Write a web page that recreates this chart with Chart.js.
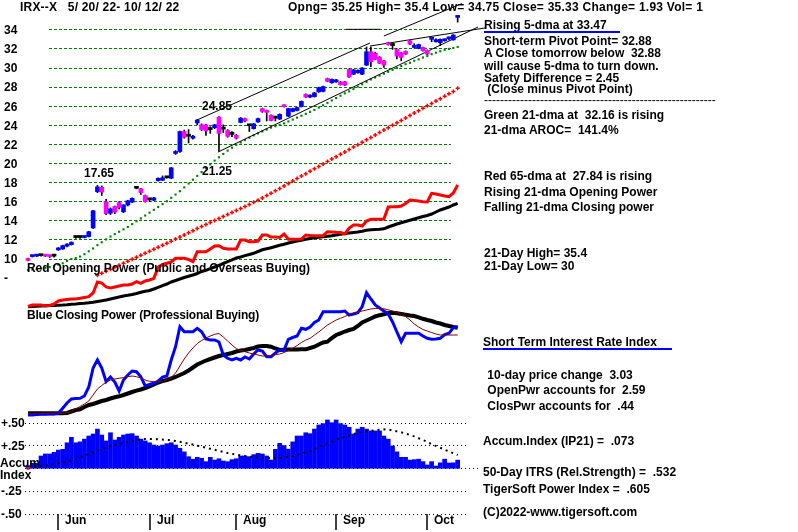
<!DOCTYPE html>
<html>
<head>
<meta charset="utf-8">
<script src="https://cdn.jsdelivr.net/npm/chart.js@4.4.0/dist/chart.umd.min.js"></script>
<style>
  html, body { margin: 0; padding: 0; background: #fff; }
  #wrap { position: relative; width: 798px; height: 532px; overflow: hidden;
          font: bold 12px "Liberation Sans", Arial, sans-serif; color: #000; }
  #wrap canvas { position: absolute; left: 0; top: 0; }
  .t { position: absolute; white-space: pre; line-height: 14px; }
  .ul { position: absolute; height: 2px; background: #0000ff; }
</style>
</head>
<body>
<div id="wrap">
  <canvas id="chart" width="798" height="532"></canvas>

  <div class="t" style="left:20px;top:0px;letter-spacing:0.2px">IRX--X   5/ 20/ 22- 10/ 12/ 22</div>
  <div class="t" style="left:288px;top:0px;letter-spacing:0.25px">Opng= 35.25 High= 35.4 Low= 34.75 Close= 35.33 Change= 1.93 Vol= 1</div>

  <div class="t" style="left:202px;top:99px">24.85</div>
  <div class="t" style="left:84px;top:166px">17.65</div>
  <div class="t" style="left:202px;top:164px">21.25</div>
  <div class="t" style="left:27px;top:261px;letter-spacing:-0.1px">Red Opening Power (Public and Overseas Buying)</div>
  <div class="t" style="left:27px;top:308px;letter-spacing:-0.2px">Blue Closing Power (Professional Buying)</div>

  <div class="t" style="left:484px;top:18px">Rising 5-dma at 33.47</div>
  <div class="ul" style="left:484px;top:31px;width:136px"></div>
  <div class="t" style="left:484px;top:34px">Short-term Pivot Point= 32.88</div>
  <div class="t" style="left:484px;top:46px">A Close tomorrow below  32.88</div>
  <div class="t" style="left:484px;top:59px">will cause 5-dma to turn down.</div>
  <div class="t" style="left:484px;top:71px">Safety Difference = 2.45</div>
  <div class="t" style="left:484px;top:82px"> (Close minus Pivot Point)</div>
  <div class="t" style="left:484px;top:93px;font-weight:normal">----------------------------------------------------------</div>
  <div class="t" style="left:484px;top:108px">Green 21-dma at  32.16 is rising</div>
  <div class="t" style="left:484px;top:123px">21-dma AROC=  141.4%</div>
  <div class="t" style="left:484px;top:169px">Red 65-dma at  27.84 is rising</div>
  <div class="t" style="left:484px;top:185px">Rising 21-dma Opening Power</div>
  <div class="t" style="left:484px;top:200px">Falling 21-dma Closing power</div>
  <div class="t" style="left:484px;top:246px">21-Day High= 35.4</div>
  <div class="t" style="left:484px;top:259px">21-Day Low= 30</div>
  <div class="t" style="left:483px;top:335px">Short Term Interest Rate Index</div>
  <div class="ul" style="left:483px;top:348px;width:189px"></div>
  <div class="t" style="left:484px;top:368px"> 10-day price change  3.03</div>
  <div class="t" style="left:484px;top:383px"> OpenPwr accounts for  2.59</div>
  <div class="t" style="left:484px;top:399px"> ClosPwr accounts for  .44</div>
  <div class="t" style="left:483px;top:434px">Accum.Index (IP21) =  .073</div>
  <div class="t" style="left:483px;top:465px">50-Day ITRS (Rel.Strength) =  .532</div>
  <div class="t" style="left:483px;top:482px">TigerSoft Power Index =  .605</div>
  <div class="t" style="left:483px;top:505px">(C)2022-www.tigersoft.com</div>
</div>

<script>
// trading days 5/20/22 .. 10/12/22, index 0..99
const monthNames    = ['Jun', 'Jul', 'Aug', 'Sep', 'Oct'];
const monthFirstDay = [7, 28, 48, 71, 92];

const priceTicks = [8, 10, 12, 14, 16, 18, 20, 22, 24, 26, 28, 30, 32, 34];
const priceTickLabels = ['-', '10', '12', '14', '16', '18', '20', '22', '24', '26', '28', '30', '32', '34'];
const accumTicks = [-0.5, -0.25, 0, 0.25, 0.5];
const accumTickLabels = ['-.50', '-.25', ['Accum', 'Index'], '+.25', '+.50'];

const openP = [
  10.0, 10.2, 10.25, 10.3, 10.35, 10.3, 10.25, 10.9, 11.0, 11.3,
  11.45, 12.2, 12.25, 12.2, 12.3, 13.2, 17.0, 17.45, 15.95, 14.75,
  15.45, 15.85, 14.9, 15.6, 15.9, 17.35, 17.3, 16.6, 16.2, 16.1,
  18.15, 18.2, 18.45, 18.4, 21.0, 21.2, 23.3, 22.8, 22.6, 24.2,
  24.0, 24.0, 23.5, 23.7, 24.8, 23.6, 23.4, 23.0, 22.9, 24.25,
  24.65, 23.9, 23.6, 24.3, 25.7, 25.5, 25.0, 24.7, 24.6, 26.05,
  24.9, 25.4, 25.5, 25.9, 27.2, 26.9, 26.95, 27.45, 27.5, 28.85,
  28.4, 28.5, 28.5, 28.5, 29.8, 29.3, 29.45, 29.3, 30.25, 31.65,
  31.5, 31.1, 30.7, 32.6, 32.35, 31.9, 31.55, 31.7, 32.8, 32.1,
  32.0, 32.1, 31.8, 32.95, 32.7, 32.6, 32.8, 33.0, 32.9, 35.25
];
const highP = [
  10.05, 10.35, 10.4, 10.4, 10.4, 10.35, 10.35, 11.15, 11.4, 11.55,
  11.75, 12.3, 12.35, 12.35, 12.85, 15.05, 17.65, 17.6, 16.2, 15.3,
  15.5, 15.95, 15.65, 16.1, 16.35, 17.5, 17.35, 16.65, 16.3, 16.4,
  18.45, 18.65, 18.6, 19.55, 21.3, 23.35, 23.45, 23.5, 22.9, 24.55,
  24.1, 24.05, 23.8, 24.05, 24.85, 24.0, 23.5, 23.3, 23.0, 24.75,
  24.7, 24.0, 24.15, 24.7, 25.75, 25.55, 25.05, 24.9, 25.15, 26.1,
  25.75, 25.75, 25.85, 26.5, 27.25, 27.15, 27.4, 27.95, 28.05, 28.9,
  28.8, 28.75, 28.55, 28.55, 29.85, 29.8, 29.75, 30.0, 32.15, 32.15,
  31.6, 31.15, 30.75, 32.65, 32.5, 31.95, 31.6, 31.75, 32.85, 32.5,
  32.45, 32.15, 31.85, 33.15, 33.0, 33.0, 33.0, 33.2, 33.45, 35.4
];
const lowP = [
  9.75, 10.15, 10.2, 10.25, 10.2, 10.1, 10.15, 10.85, 10.95, 11.2,
  11.4, 12.1, 12.1, 12.15, 12.25, 13.15, 16.9, 16.6, 14.6, 14.6,
  14.7, 15.2, 14.8, 15.5, 15.85, 17.3, 16.7, 15.9, 15.95, 16.05,
  18.1, 18.15, 18.4, 18.35, 20.9, 21.1, 22.6, 22.1, 22.5, 24.0,
  23.4, 22.9, 23.1, 23.6, 21.25, 23.2, 22.7, 22.75, 22.5, 24.2,
  24.3, 23.3, 23.55, 24.25, 25.3, 24.4, 24.4, 24.4, 24.55, 25.85,
  24.85, 25.35, 25.45, 25.85, 26.85, 26.85, 26.9, 27.4, 27.45, 28.5,
  28.35, 28.45, 28.15, 28.1, 28.95, 29.25, 29.4, 29.25, 30.2, 30.1,
  30.8, 30.4, 30.0, 32.35, 31.9, 30.9, 30.7, 31.35, 32.4, 32.05,
  31.95, 31.7, 31.35, 32.7, 32.65, 32.3, 32.75, 32.9, 32.85, 34.75
];
const closeP = [
  9.8, 10.3, 10.35, 10.35, 10.25, 10.2, 10.3, 11.1, 11.35, 11.5,
  11.7, 12.25, 12.2, 12.3, 12.8, 15.0, 17.5, 16.95, 14.7, 15.2,
  14.85, 15.35, 15.6, 16.05, 16.3, 17.4, 16.9, 15.95, 16.15, 16.35,
  18.4, 18.45, 18.5, 19.5, 21.2, 23.3, 22.7, 22.85, 22.75, 24.5,
  23.5, 23.35, 23.55, 24.0, 23.1, 23.55, 22.8, 23.05, 22.6, 24.7,
  24.4, 23.95, 24.1, 24.65, 25.4, 25.3, 24.45, 24.75, 25.1, 25.9,
  25.7, 25.7, 25.8, 26.45, 26.9, 27.1, 27.35, 27.9, 28.0, 28.55,
  28.75, 28.7, 28.2, 28.15, 29.0, 29.75, 29.7, 29.95, 31.65, 30.6,
  30.85, 30.45, 30.25, 32.4, 32.3, 31.2, 31.05, 31.4, 32.45, 32.3,
  32.4, 31.75, 31.4, 33.1, 32.88, 32.95, 32.95, 33.1, 33.4, 35.33
];

// green 21-dma
const ma21 = [
  8.8, 8.85, 8.9, 8.95, 9.0, 9.1, 9.2, 9.35, 9.5, 9.75,
  9.95, 10.05, 10.2, 10.45, 10.75, 11.05, 11.4, 11.7, 12.0, 12.3,
  12.55, 12.8, 13.05, 13.3, 13.6, 13.9, 14.2, 14.5, 14.8, 15.1,
  15.4, 15.7, 16.0, 16.35, 16.7, 17.05, 17.45, 17.85, 18.25, 18.65,
  19.05, 19.45, 19.85, 20.25, 20.6, 20.95, 21.3, 21.6, 21.9, 22.15,
  22.4, 22.65, 22.9, 23.1, 23.3, 23.5, 23.7, 23.85, 24.0, 24.15,
  24.35, 24.55, 24.75, 24.95, 25.15, 25.35, 25.55, 25.8, 26.05, 26.3,
  26.55, 26.8, 27.05, 27.3, 27.5, 27.75, 28.0, 28.25, 28.5, 28.75,
  28.95, 29.15, 29.35, 29.55, 29.75, 29.95, 30.15, 30.35, 30.5, 30.7,
  30.85, 31.05, 31.2, 31.4, 31.55, 31.7, 31.85, 31.95, 32.05, 32.16
];
// red 65-dma (shown from day 16)
const ma65 = [
  null, null, null, null, null, null, null, null, null, null,
  null, null, null, null, null, null, 8.24, 8.45, 8.66, 8.87,
  9.08, 9.29, 9.5, 9.71, 9.92, 10.13, 10.34, 10.55, 10.76, 10.97,
  11.18, 11.39, 11.6, 11.81, 12.03, 12.25, 12.47, 12.69, 12.91, 13.13,
  13.35, 13.56, 13.77, 13.98, 14.19, 14.4, 14.61, 14.82, 15.03, 15.24,
  15.45, 15.66, 15.88, 16.1, 16.34, 16.59, 16.84, 17.09, 17.34, 17.6,
  17.86, 18.12, 18.38, 18.63, 18.88, 19.14, 19.39, 19.64, 19.9, 20.15,
  20.41, 20.66, 20.91, 21.16, 21.42, 21.67, 21.92, 22.18, 22.43, 22.68,
  22.94, 23.19, 23.45, 23.7, 23.96, 24.21, 24.46, 24.72, 24.97, 25.23,
  25.48, 25.73, 25.99, 26.24, 26.49, 26.74, 27.0, 27.25, 27.5, 27.84
];

// trend lines: [day, price]
const trendUpper   = [[38.9, 24.5], [78.8, 32.57]];
const trendUpper2  = [[82.0, 33.3], [100.0, 36.7]];
const trendLower   = [[43.8, 21.15], [103.7, 34.24]];
const trendPointer = [[78.8, 32.25], [105.3, 34.14]];
const trendFlat    = [[73.3, 34.0], [81.1, 34.0]];

// opening power (red) and its 21-dma (black), arbitrary units
const openPower = [
  3.5, 5, 5, 5, 4, 4.5, 6, 9, 10, 10.5,
  11, 11, 11.7, 12.5, 13.3, 17, 28, 27, 23, 22,
  23, 24, 25, 25, 26, 28.3, 26.7, 29, 30, 31.7,
  43, 45.5, 46.7, 48, 51.7, 51.7, 51.7, 50.5, 48.3, 58.3,
  58.3, 58.3, 61, 64, 64.3, 61.7, 61, 61, 61, 70,
  70, 68.3, 68.3, 69, 75, 75, 73, 73, 72.5, 76,
  70.7, 70.7, 70.7, 71, 75, 74.5, 74.3, 74.3, 74.3, 78.3,
  78, 77.7, 77.5, 76, 82, 85, 85, 84, 89, 90.7,
  90.7, 90.7, 91, 103, 103.3, 103.3, 104, 106.5, 110, 109.5,
  109, 108.3, 108, 116.7, 116, 115, 114, 113.3, 117, 125
];
const openPowerMa = [
  3.3, 3.5, 3.7, 4, 4.2, 4.4, 4.6, 4.8, 5, 5.3,
  5.7, 6, 6.4, 6.7, 7.2, 7.8, 8.5, 9.2, 10, 11,
  12, 13, 14, 14.7, 15.5, 16.5, 17.7, 18.7, 19.5, 21,
  22.7, 24.3, 26, 28, 29.5, 31, 32.5, 33.7, 35, 36.5,
  38.5, 39.7, 41.3, 43, 44.7, 46.5, 48.3, 50.2, 52, 53,
  54.4, 55.5, 56.7, 58.5, 60.2, 61.2, 62.3, 63.5, 64.7, 65.8,
  67, 68, 69, 69.7, 70.7, 71.5, 72.2, 72.7, 73.2, 73.7,
  74.2, 75, 75.7, 76.4, 77, 77.5, 78, 78.7, 79.7, 80.2,
  80.5, 80.7, 81.2, 83, 84.5, 86, 87.2, 88.5, 89.7, 91,
  92.2, 93.5, 94.5, 96, 98, 100, 101.5, 103, 105, 106.7
];

// closing power (blue), its 21-dma (black) and short ma (dark red)
const closePower = [
  5, 5, 5.5, 5.7, 5.7, 6, 6, 7, 11.7, 17,
  21, 21.5, 21.7, 24, 33, 52, 60, 52, 38.3, 43,
  38, 29, 40, 45, 49, 48.3, 43.3, 34, 35.5, 36.7,
  39, 43, 44, 60, 73.3, 93.3, 88.3, 88.3, 88.3, 91.7,
  88.3, 81, 80, 80, 78, 65, 61.7, 60, 61.7, 60,
  63, 61, 66, 70, 69, 63.3, 63.3, 67, 70, 70,
  80.7, 82.5, 84, 91.7, 90.7, 93, 97.5, 100, 108.3, 108.3,
  108.3, 108.3, 108.3, 109, 105, 106, 107.3, 113.5, 127.3, 121,
  115, 112, 109, 106, 98, 88, 78.3, 86.7, 86.7, 86.7,
  86.7, 84, 81.7, 80.7, 81, 81.7, 85.5, 86.7, 92.5, 93.3
];
const closePowerMa = [
  6.7, 6.7, 6.7, 6.7, 6.7, 6.7, 6.7, 6.7, 6.7, 7,
  8.5, 10, 10.7, 13, 15, 16, 17.5, 19, 20, 21.5,
  22.7, 23.7, 25, 26.5, 28, 29.3, 30.5, 32, 33.7, 35.5,
  37.5, 39, 40, 41.5, 43, 45, 47, 49.5, 52.5, 55.5,
  57.5, 59.5, 61, 62.5, 64, 65, 66, 67, 68.5, 69.5,
  70, 71, 72, 73.5, 74, 74, 73.3, 71.5, 70, 70.3,
  70.5, 70.5, 70.5, 70.7, 70.7, 72, 73.3, 75.5, 77.5, 78.3,
  82, 85, 86.7, 88.5, 90, 91, 94, 97.5, 99.5, 101.5,
  103.5, 104.8, 105.7, 107, 107.3, 106.7, 106, 105.3, 104.5, 104,
  102.7, 101.2, 100, 99, 97.5, 96.5, 95, 94, 93, 92.3
];
const closePowerShort = [
  6.7, 6.7, 6.7, 6.7, 6.7, 6.7, 6.7, 6.7, 6.8, 7.3,
  8.5, 11, 13.5, 16, 19, 25, 31, 34.5, 38, 40,
  41, 41.7, 42.5, 43.3, 44, 43.3, 42, 40, 38.7, 38.3,
  38.3, 39, 40.5, 42.5, 47, 54, 61, 67, 72, 76.5,
  79.5, 82, 84, 85.7, 86.5, 83, 79, 75, 71.5, 69.5,
  68.3, 67, 66, 65, 64, 64, 64.5, 65.3, 66, 67.5,
  69.5, 71.7, 74.5, 77.5, 80, 81.7, 85, 88, 91.5, 95,
  97.5, 100, 101.7, 103.5, 105.5, 107, 108, 109, 110, 111,
  111.5, 111.7, 111.2, 110.2, 109, 107.5, 105.5, 103.5, 100, 96,
  93, 90.5, 89, 87.5, 86, 85, 85, 85, 85, 85
];

// accumulation index (IP21) and its moving average
const accumIndex = [
  0.03, 0.055, 0.055, 0.135, 0.157, 0.157, 0.175, 0.2, 0.208, 0.28,
  0.34, 0.28, 0.29, 0.32, 0.354, 0.376, 0.43, 0.365, 0.3, 0.39,
  0.31, 0.34, 0.365, 0.376, 0.38, 0.354, 0.32, 0.3, 0.28, 0.255,
  0.245, 0.255, 0.27, 0.28, 0.255, 0.22, 0.18, 0.127, 0.099, 0.12,
  0.11, 0.073, 0.12, 0.09, 0.105, 0.08, 0.073, 0.095, 0.105, 0.135,
  0.135, 0.128, 0.15, 0.164, 0.157, 0.135, 0.091, 0.208, 0.274, 0.25,
  0.21, 0.29, 0.354, 0.354, 0.39, 0.38, 0.43, 0.475, 0.49, 0.53,
  0.5, 0.53, 0.49, 0.475, 0.45, 0.376, 0.43, 0.45, 0.43, 0.41,
  0.41, 0.41, 0.354, 0.32, 0.245, 0.18, 0.12, 0.12, 0.09, 0.095,
  0.1, 0.073, 0.036, 0.073, 0.025, 0.06, 0.1, 0.058, 0.06, 0.09
];
const accumMa = [
  0.0, 0.01, 0.018, 0.025, 0.03, 0.036, 0.045, 0.055, 0.063, 0.072,
  0.085, 0.1, 0.12, 0.135, 0.155, 0.175, 0.195, 0.21, 0.225, 0.24,
  0.255, 0.265, 0.28, 0.29, 0.3, 0.31, 0.318, 0.32, 0.32, 0.32,
  0.318, 0.315, 0.312, 0.308, 0.3, 0.29, 0.28, 0.27, 0.26, 0.248,
  0.238, 0.226, 0.214, 0.203, 0.19, 0.18, 0.168, 0.158, 0.15, 0.142,
  0.134, 0.128, 0.123, 0.12, 0.116, 0.112, 0.11, 0.11, 0.112, 0.12,
  0.128, 0.136, 0.148, 0.16, 0.175, 0.19, 0.21, 0.235, 0.255, 0.275,
  0.295, 0.315, 0.33, 0.345, 0.36, 0.375, 0.387, 0.398, 0.405, 0.412,
  0.418, 0.423, 0.427, 0.425, 0.415, 0.405, 0.395, 0.38, 0.365, 0.35,
  0.33, 0.31, 0.29, 0.265, 0.245, 0.225, 0.205, 0.185, 0.165, 0.146
];

const pts = arr => arr.map((v, i) => ({ x: i, y: v }));
const seg = arr => arr.map(p => ({ x: p[0], y: p[1] }));

const bodyColors = openP.map((o, i) => {
  const c = closeP[i];
  if (Math.abs(c - o) < 0.06) return '#000000';
  return c > o ? '#0000ff' : '#ff00ff';
});

const trendLine = (arr) => ({
  type: 'line', yAxisID: 'yP', data: seg(arr), borderColor: '#000', borderWidth: 1,
  pointRadius: 0, tension: 0, order: 2
});

// grid lines, axis labels, month ticks
const decor = {
  id: 'decor',
  beforeDatasetsDraw(chart) {
    const { ctx, scales } = chart;
    const yP = scales.yP, yAI = scales.yAI;
    ctx.save();
    ctx.lineWidth = 1;
    ctx.strokeStyle = '#008000';
    ctx.setLineDash([3, 2]);
    priceTicks.forEach(v => {
      if (v < 10) return;
      const y = Math.round(yP.getPixelForValue(v)) + 0.5;
      ctx.beginPath(); ctx.moveTo(49, y); ctx.lineTo(451, y); ctx.stroke();
    });
    ctx.strokeStyle = '#000';
    ctx.setLineDash([1, 3]);
    accumTicks.forEach(v => {
      const y = Math.round(yAI.getPixelForValue(v)) + 0.5;
      ctx.beginPath(); ctx.moveTo(25, y); ctx.lineTo(v === 0 ? 478 : 468, y); ctx.stroke();
    });
    ctx.restore();
  },
  afterDraw(chart) {
    const { ctx, scales } = chart;
    ctx.save();
    ctx.fillStyle = '#000';
    ctx.strokeStyle = '#000';
    ctx.font = 'bold 12px "Liberation Sans", Arial, sans-serif';
    ctx.textBaseline = 'middle';
    ctx.textAlign = 'left';
    priceTicks.forEach((v, k) => {
      ctx.fillText(priceTickLabels[k], 4, scales.yP.getPixelForValue(v) + 1.5);
    });
    accumTicks.forEach((v, k) => {
      const lab = accumTickLabels[k];
      const y = scales.yAI.getPixelForValue(v);
      if (Array.isArray(lab)) {
        ctx.fillText(lab[0], 0, y - 5);
        ctx.fillText(lab[1], 0, y + 7);
      } else {
        ctx.fillText(lab, 1, y + 1);
      }
    });
    ctx.lineWidth = 1.5;
    monthFirstDay.forEach((d, k) => {
      const x = Math.round(scales.x.getPixelForValue(d));
      ctx.beginPath(); ctx.moveTo(x, 514); ctx.lineTo(x, 530); ctx.stroke();
      ctx.fillText(monthNames[k], x + 7, 521);
    });
    ctx.restore();
  }
};

const hiddenY = (min, max) => ({ type: 'linear', min, max, display: false });

new Chart(document.getElementById('chart'), {
  type: 'line',
  data: {
    datasets: [
      { type: 'bar', yAxisID: 'yP', order: 0, grouped: false, barThickness: 4, minBarLength: 2,
        data: openP.map((o, i) => ({ x: i, y: [o, closeP[i]] })), backgroundColor: bodyColors },
      { type: 'bar', yAxisID: 'yP', order: 1, grouped: false, barThickness: 1,
        data: lowP.map((l, i) => ({ x: i, y: [l, highP[i]] })), backgroundColor: '#000' },
      trendLine(trendUpper), trendLine(trendUpper2), trendLine(trendLower),
      trendLine(trendPointer), trendLine(trendFlat),
      { type: 'line', yAxisID: 'yP', order: 3, data: pts(ma21), showLine: false,
        pointStyle: 'rect', pointRadius: 1.5, pointBackgroundColor: '#008000', pointBorderWidth: 0 },
      { type: 'line', yAxisID: 'yP', order: 4, data: pts(ma65), showLine: false,
        pointStyle: 'cross', pointRadius: 2, pointBorderColor: '#ff0000', pointBorderWidth: 1.5 },
      { type: 'line', yAxisID: 'yOP', order: 5, data: pts(openPower), borderColor: '#ff0000',
        borderWidth: 3, pointRadius: 0, tension: 0 },
      { type: 'line', yAxisID: 'yOP', order: 6, data: pts(openPowerMa), borderColor: '#000',
        borderWidth: 3, pointRadius: 0, tension: 0 },
      { type: 'line', yAxisID: 'yCP', order: 5, data: pts(closePowerShort), borderColor: '#800000',
        borderWidth: 1, pointRadius: 0, tension: 0 },
      { type: 'line', yAxisID: 'yCP', order: 6, data: pts(closePower), borderColor: '#0000ff',
        borderWidth: 3, pointRadius: 0, tension: 0 },
      { type: 'line', yAxisID: 'yCP', order: 7, data: pts(closePowerMa), borderColor: '#000',
        borderWidth: 4, pointRadius: 0, tension: 0 },
      { type: 'line', yAxisID: 'yAI', order: 8, data: pts(accumMa), borderColor: '#000',
        borderWidth: 2, borderDash: [2, 4], tension: 0, pointStyle: 'rect',
        pointRadius: c => c.dataIndex === 0 ? 2 : 0, pointBackgroundColor: '#ff0000', pointBorderWidth: 0 },
      { type: 'bar', yAxisID: 'yAI', order: 9, grouped: false, barThickness: 4,
        data: pts(accumIndex), backgroundColor: '#0000ff' }
    ]
  },
  options: {
    responsive: false,
    animation: false,
    devicePixelRatio: 1,
    layout: { padding: 0, autoPadding: false },
    plugins: { legend: { display: false }, tooltip: { enabled: false } },
    scales: {
      x: { type: 'linear', min: -28 / 4.34, max: 770 / 4.34, display: false, offset: false },
      yP: hiddenY(-18.64, 37.07),
      yAI: hiddenY(-0.6985, 5.135),
      yOP: hiddenY(-222, 310),
      yCP: hiddenY(-112, 420)
    }
  },
  plugins: [decor]
});
</script>
</body>
</html>
